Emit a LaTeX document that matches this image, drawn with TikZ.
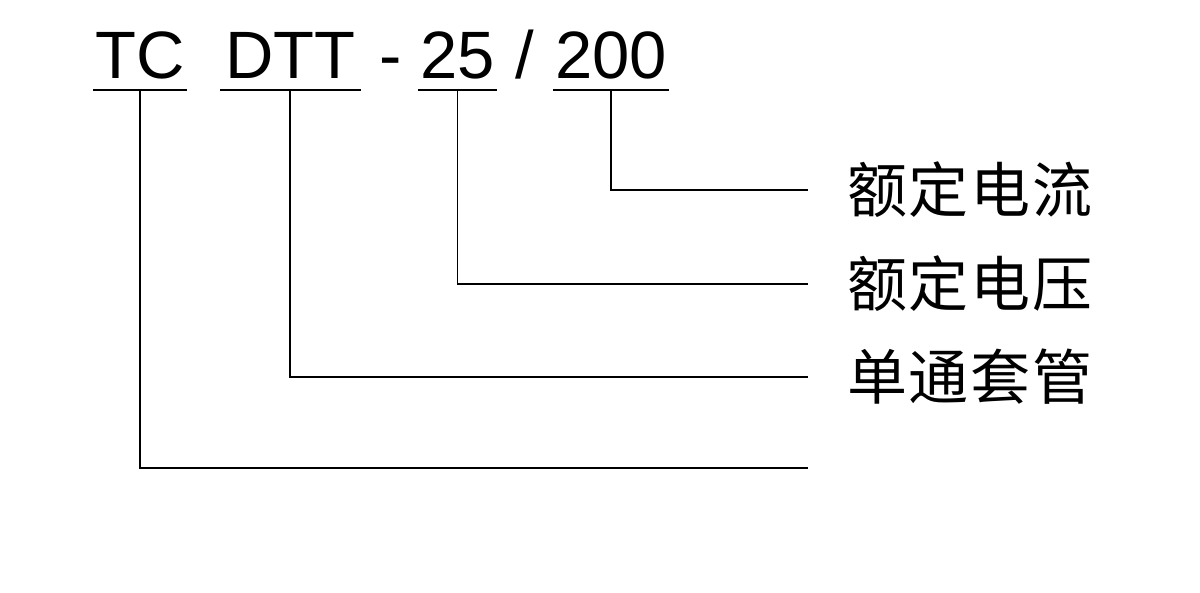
\documentclass[tikz,border=0pt]{standalone}
\usepackage{fontspec}
\usetikzlibrary{calc}
\newfontfamily\codefont{Liberation Sans}
\newfontfamily\cjk{Noto Sans CJK SC}[LetterSpace=3]

\begin{document}
\begin{tikzpicture}[x=1pt,y=-1pt,
    code/.style={font=\codefont\fontsize{67}{80}\selectfont, inner xsep=2pt, inner ysep=0pt, anchor=base west},
    label/.style={font=\cjk\fontsize{60}{70}\selectfont, inner sep=0pt, anchor=west},
    leader/.style={black, line width=1.7pt}]
    % Frame
    \useasboundingbox (0,0) rectangle (1200,593);

    % Type code
    \node[code] (tc) at (93,79) {TC};
    \node[code, inner xsep=5pt] (dtt) at (220,79) {DTT};
    \node[code] (dash) at (377,79) {-};
    \node[code] (volt) at (418,79) {25};
    \node[code] (slash) at (513,79) {/};
    \node[code] (amp) at (553,79) {200};

    % Underlines
    \foreach \n in {tc,dtt,volt,amp} {
        \draw[leader] ([yshift=-11pt]\n.base west) -- ([yshift=-11pt]\n.base east);
    }

    % Meanings
    \node[label] (lamp) at (847,190) {额定电流};
    \node[label] (lvolt) at (847,284) {额定电压};
    \node[label] (ldtt) at (847,377) {单通套管};
    \coordinate (ltc) at (808,468);

    % Leader lines
    \draw[leader] ([yshift=-11pt]amp.base) |- ([xshift=-39pt]lamp.west);
    \draw[leader] ([yshift=-11pt]volt.base) |- ([xshift=-39pt]lvolt.west);
    \draw[leader] ([yshift=-11pt]dtt.base) |- ([xshift=-39pt]ldtt.west);
    \draw[leader] ([yshift=-11pt]tc.base) |- (ltc);
\end{tikzpicture}
\end{document}
